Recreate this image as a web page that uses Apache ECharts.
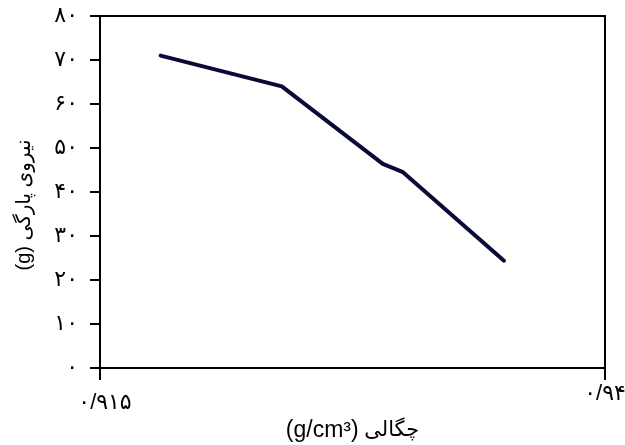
<!DOCTYPE html>
<html>
<head>
<meta charset="utf-8">
<script src="https://cdn.jsdelivr.net/npm/echarts@6/dist/echarts.min.js"></script>
<style>
  html, body { margin: 0; padding: 0; background: #fff; }
  #chart { width: 625px; height: 445px; }
</style>
</head>
<body>
<div id="chart"></div>
<script>
// Density (g/cm3) and tear strength (g)
const density = [0.918, 0.924, 0.929, 0.930, 0.935];
const tearForce = [71, 64, 46.4, 44.5, 24.4];
const xTicks = [0.915, 0.94];
const yTicks = [0, 10, 20, 30, 40, 50, 60, 70, 80];
const xUnit = '(g/cm³)';
const xWord = 'چگالی';
const yTitle = '(g) نیروی پارگی';

const FONT = '"Liberation Sans", "DejaVu Sans", Arial, sans-serif';

// Western digits -> Persian digits, decimal point -> slash
function toPersian(v) {
  const digits = '۰۱۲۳۴۵۶۷۸۹';
  return String(v).replace(/[0-9]/g, d => digits[+d]).replace('.', '/');
}

const points = density.map((x, i) => [x, tearForce[i]]);

const chart = echarts.init(document.getElementById('chart'));
chart.setOption({
  animation: false,
  backgroundColor: '#fff',
  grid: {
    left: 100, right: 20, top: 16, bottom: 77,
    outerBoundsMode: 'none',
    containLabel: false,
    show: true, borderColor: '#000', borderWidth: 2, backgroundColor: 'transparent'
  },
  xAxis: {
    type: 'value',
    min: xTicks[0],
    max: xTicks[xTicks.length - 1],
    name: '{u|' + xUnit + '} {w|' + xWord + '}',
    nameLocation: 'middle',
    nameGap: 47,
    nameTextStyle: {
      fontFamily: FONT, fontSize: 20, color: '#000',
      rich: {
        u: { fontFamily: FONT, fontSize: 23, color: '#000' },
        w: { fontFamily: FONT, fontSize: 21, color: '#000' }
      }
    },
    axisLine: { show: true, onZero: false, lineStyle: { color: '#000', width: 2 } },
    axisTick: { show: true, customValues: xTicks, length: 12, lineStyle: { color: '#000', width: 2 } },
    axisLabel: {
      customValues: xTicks,
      margin: 15,
      fontFamily: FONT, fontSize: 22, color: '#000',
      formatter: v => (Math.abs(v - xTicks[0]) < 1e-9 ? '{lo|' + toPersian(v) + '}' : '{hi|' + toPersian(v) + '}'),
      rich: {
        lo: { fontFamily: FONT, fontSize: 22, color: '#000', padding: [9, 0, 0, 10] },
        hi: { fontFamily: FONT, fontSize: 22, color: '#000' }
      }
    },
    splitLine: { show: false }
  },
  yAxis: {
    type: 'value',
    min: yTicks[0],
    max: yTicks[yTicks.length - 1],
    interval: 10,
    name: yTitle,
    nameLocation: 'middle',
    nameRotate: 90,
    nameGap: 66,
    nameTextStyle: { fontFamily: FONT, fontSize: 20, color: '#000', padding: [0, 26, 0, 0] },
    axisLine: { show: true, lineStyle: { color: '#000', width: 2 } },
    axisTick: { show: true, length: 10, lineStyle: { color: '#000', width: 2 } },
    axisLabel: {
      margin: 22,
      fontFamily: FONT, fontSize: 22, color: '#000',
      formatter: v => toPersian(v)
    },
    splitLine: { show: false }
  },
  series: [{
    type: 'line',
    data: points,
    showSymbol: false,
    symbol: 'none',
    lineStyle: { color: '#0a0a38', width: 4, cap: 'round', join: 'round' }
  }]
});
</script>
</body>
</html>
